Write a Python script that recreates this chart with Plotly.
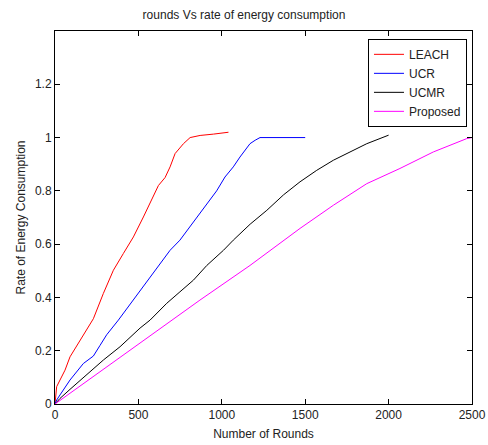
import plotly.graph_objects as go

leach_x = [0, 5, 10, 30, 60, 90, 150, 190, 230, 290, 350, 410, 470, 530, 590, 620, 660, 690, 720, 770, 810, 870, 950, 1040]
leach_y = [0, 0.03, 0.065, 0.09, 0.127, 0.177, 0.24, 0.277, 0.32, 0.415, 0.502, 0.565, 0.627, 0.702, 0.777, 0.82, 0.85, 0.89, 0.94, 0.977, 1.0, 1.008, 1.013, 1.02]

ucr_x = [0, 10, 30, 90, 170, 230, 270, 310, 380, 470, 510, 569, 630, 690, 749, 869, 969, 1019, 1069, 1109, 1169, 1200, 1229, 1500]
ucr_y = [0, 0.015, 0.034, 0.09, 0.152, 0.18, 0.22, 0.26, 0.315, 0.39, 0.427, 0.477, 0.527, 0.577, 0.615, 0.715, 0.80, 0.852, 0.89, 0.927, 0.977, 0.99, 1.0, 1.0]

ucmr_x = [0, 30, 90, 170, 230, 290, 390, 510, 570, 670, 749, 830, 910, 1010, 1069, 1170, 1270, 1370, 1469, 1569, 1669, 1769, 1869, 2000]
ucmr_y = [0, 0.021, 0.055, 0.1, 0.135, 0.165, 0.215, 0.285, 0.315, 0.378, 0.421, 0.465, 0.52, 0.577, 0.615, 0.675, 0.727, 0.785, 0.834, 0.877, 0.915, 0.946, 0.977, 1.009]

prop_x = [0, 510, 869, 1169, 1469, 1669, 1869, 2068, 2268, 2468, 2500]
prop_y = [0, 0.227, 0.39, 0.52, 0.659, 0.746, 0.827, 0.884, 0.946, 0.996, 1.0]

x_ticks = [0, 500, 1000, 1500, 2000, 2500]
y_ticks = [0, 0.2, 0.4, 0.6, 0.8, 1.0, 1.2]
y_labels = ["0", "0.2", "0.4", "0.6", "0.8", "1", "1.2"]

FONT = "Liberation Sans, Arial, sans-serif"

fig = go.Figure()
for name, xs, ys, col in [
    ("LEACH", leach_x, leach_y, "#ff0000"),
    ("UCR", ucr_x, ucr_y, "#0000ff"),
    ("UCMR", ucmr_x, ucmr_y, "#000000"),
    ("Proposed", prop_x, prop_y, "#ff00ff"),
]:
    fig.add_trace(go.Scatter(x=xs, y=ys, mode="lines", name=name,
                             line=dict(color=col, width=1)))

axis_common = dict(
    showgrid=False, zeroline=False, showline=True, linecolor="#000000", linewidth=1,
    mirror="ticks", ticks="inside", ticklen=5, tickcolor="#000000", tickwidth=1,
    tickfont=dict(family=FONT, size=12, color="#222222"), automargin=False,
)

fig.update_layout(
    width=488, height=445,
    margin=dict(l=55, r=16, t=31, b=41),
    paper_bgcolor="white", plot_bgcolor="white",
    title=dict(text="rounds Vs rate of energy consumption", x=0.5, xanchor="center",
               y=1 - 15 / 445, yanchor="middle",
               font=dict(family=FONT, size=12, color="#222222")),
    xaxis=dict(range=[0, 2500], tickvals=x_ticks,
               title=dict(text="Number of Rounds", standoff=8,
                          font=dict(family=FONT, size=12, color="#222222")),
               **axis_common),
    yaxis=dict(range=[0, 1.4], tickvals=y_ticks, ticktext=y_labels,
               title=dict(text="Rate of Energy Consumption", standoff=6,
                          font=dict(family=FONT, size=12, color="#222222")),
               **axis_common),
    legend=dict(x=0.988, y=0.979, xanchor="right", yanchor="top",
                bgcolor="white", bordercolor="#000000", borderwidth=1,
                font=dict(family=FONT, size=12, color="#222222"),
                tracegroupgap=0, itemwidth=30),
    showlegend=True,
)

fig.write_html("out.html")
